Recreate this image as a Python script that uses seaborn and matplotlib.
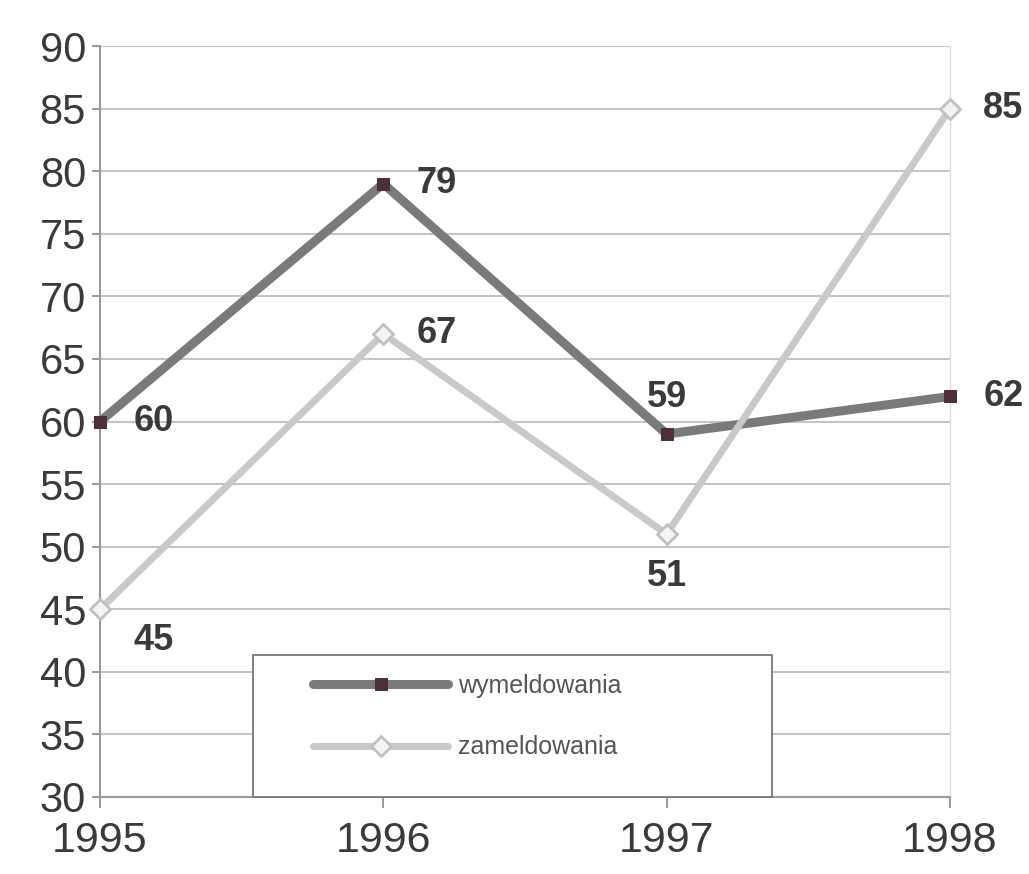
import matplotlib
matplotlib.use("Agg")
import matplotlib.pyplot as plt
import matplotlib.patches as mpatches
import seaborn as sns
import pandas as pd

years = [1995, 1996, 1997, 1998]
wymeldowania = [60, 79, 59, 62]
zameldowania = [45, 67, 51, 85]
series_names = ["wymeldowania", "zameldowania"]
yticks = list(range(30, 91, 5))

sns.set_theme(style="white")
plt.rcParams['font.family'] = ['Liberation Sans', 'DejaVu Sans']

fig = plt.figure(figsize=(10.29, 8.74), dpi=100)
ax = fig.add_axes([100/1029, 1-797/874, 850/1029, (797-46)/874])

df_w = pd.DataFrame({"rok": years, "v": wymeldowania})
df_z = pd.DataFrame({"rok": years, "v": zameldowania})

sns.lineplot(data=df_w, x="rok", y="v", ax=ax, color="#7a7a7a", linewidth=6.5,
             marker="s", markersize=9, markerfacecolor="#4b3039",
             markeredgecolor="#4b3039", label=series_names[0], zorder=3,
             clip_on=False)
sns.lineplot(data=df_z, x="rok", y="v", ax=ax, color="#c9c9c9", linewidth=5,
             marker="D", markersize=10, markerfacecolor="#f4f4f4",
             markeredgecolor="#c0c0c0", markeredgewidth=2,
             label=series_names[1], zorder=3, clip_on=False)

ax.set_xlim(1995, 1998)
ax.set_ylim(30, 90)
ax.set_yticks(yticks)
ax.set_xticks(years)
ax.set_xticklabels([str(y) for y in years], fontsize=31, color="#3a3a3a")
ax.set_yticklabels([str(y) for y in yticks], fontsize=30, color="#3a3a3a")
ax.tick_params(axis="x", length=8, width=1.2, color="#888888", pad=9, direction="out", bottom=True)
ax.tick_params(axis="y", length=6, width=1.2, color="#888888", pad=4, direction="out", left=True)
ax.set_xlabel("")
ax.set_ylabel("")
ax.grid(axis="y", color="#c4c4c4", linewidth=1.5)
ax.grid(axis="x", visible=False)
for s in ["left", "bottom"]:
    ax.spines[s].set_color("#9a9a9a")
    ax.spines[s].set_linewidth(1.5)
ax.spines["right"].set_color("#dddddd")
ax.spines["right"].set_linewidth(1)
ax.spines["top"].set_visible(False)

lab = dict(fontsize=26, fontweight="bold", color="#3a3a3a", clip_on=False, zorder=5)
offs_w = [(24, 0, "left", "center"), (24, 0, "left", "center"),
          (0, 14, "center", "bottom"), (24, 0, "left", "center")]
offs_z = [(24, -10, "left", "top"), (24, 0, "left", "center"),
          (0, -18, "center", "top"), (24, 0, "left", "center")]
for x, v, (dx, dy, ha, va) in zip(years, wymeldowania, offs_w):
    ax.annotate(str(v), (x, v), xytext=(dx, dy), textcoords="offset points",
                ha=ha, va=va, **lab)
for x, v, (dx, dy, ha, va) in zip(years, zameldowania, offs_z):
    ax.annotate(str(v), (x, v), xytext=(dx, dy), textcoords="offset points",
                ha=ha, va=va, **lab)

# legend frame drawn as a separate rectangle (axes fraction)
rect = mpatches.Rectangle((153/850, 0.0), 519/850, 142/751, transform=ax.transAxes,
                          facecolor="white", edgecolor="#777777", linewidth=1.3,
                          zorder=4, clip_on=False)
ax.add_patch(rect)
leg = ax.legend(loc="upper left", bbox_to_anchor=(213/850, 1 - (674 - 46)/751),
                fontsize=18, frameon=False, borderpad=0, labelspacing=1.5,
                handlelength=5.4, handletextpad=0.4, borderaxespad=0)
leg.set_zorder(6)
for t in leg.get_texts():
    t.set_color("#555555")

fig.savefig("out.png", dpi=100, facecolor="white")
